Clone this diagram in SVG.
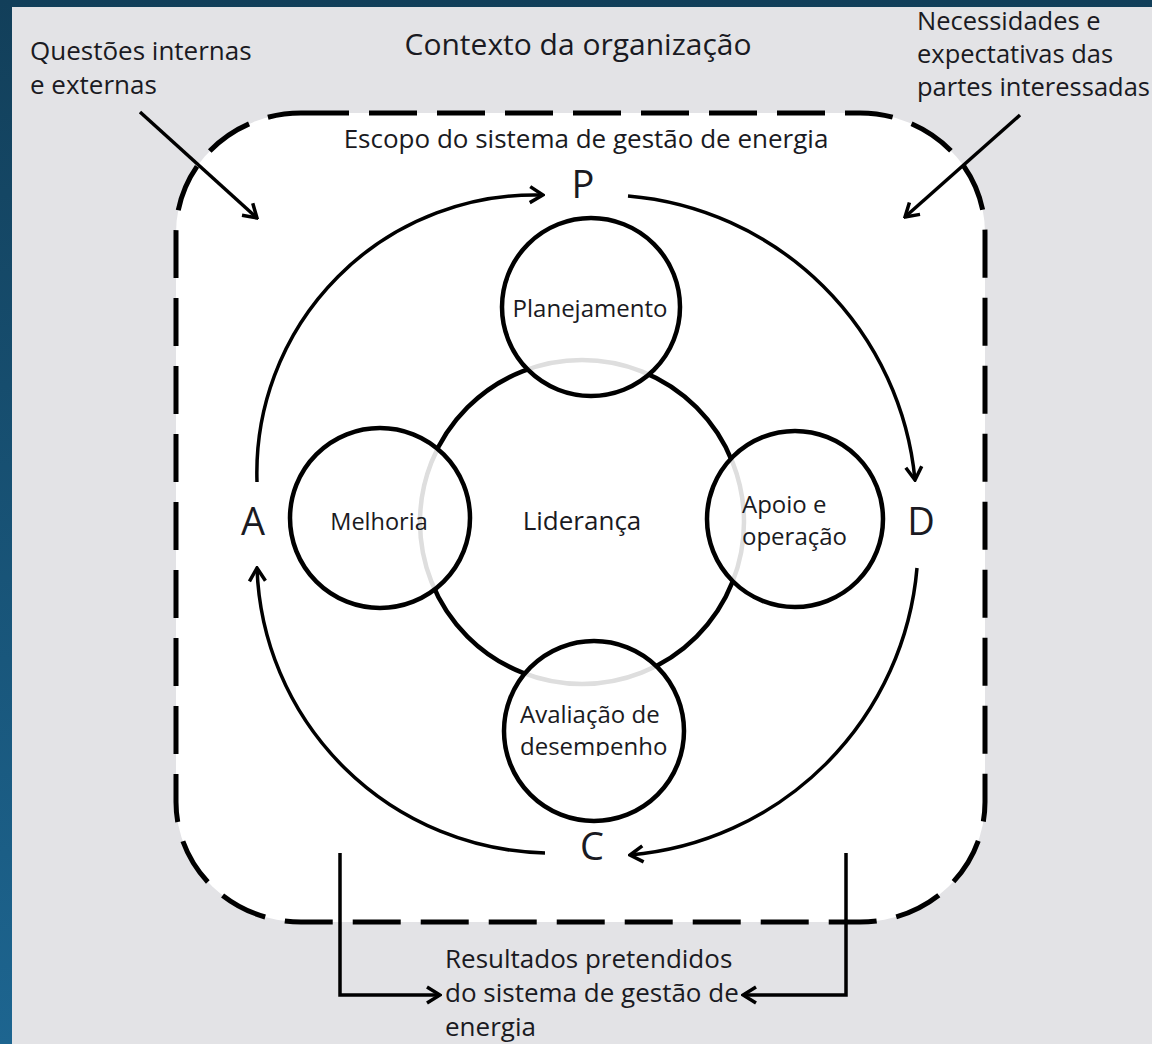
<svg xmlns="http://www.w3.org/2000/svg" width="1152" height="1044" viewBox="0 0 1152 1044">
<defs>
<linearGradient id="bg" x1="0" y1="0" x2="0" y2="1">
<stop offset="0" stop-color="#123f5a"/>
<stop offset="1" stop-color="#1d6590"/>
</linearGradient>
<marker id="arr" viewBox="-16 -10 18 20" markerWidth="18" markerHeight="20" refX="0" refY="0" orient="auto" markerUnits="userSpaceOnUse">
<path d="M-13,-8 L0,0 L-13,8" fill="none" stroke="#000" stroke-width="3.5" stroke-linejoin="miter"/>
</marker>
<clipPath id="clipDes"><rect x="480" y="730" width="220" height="26"/></clipPath>
</defs>
<style>
.t{font-family:"Open Sans","Noto Sans","Liberation Sans",sans-serif;fill:#1a1a22;}
.lbl{font-size:26px;}
.in{font-size:24px;}
.big{font-size:38px;}
.node{fill:#fff;fill-opacity:0.87;stroke:#000;stroke-width:4.5;}
.conn{fill:none;stroke:#000;stroke-width:3.5;}
</style>
<rect x="0" y="0" width="1152" height="1044" fill="url(#bg)"/>
<rect x="12" y="7" width="1140" height="1037" fill="#e3e3e6"/>
<rect id="scope" x="176" y="113" width="809" height="809" rx="125" ry="120" fill="#fff" stroke="#000" stroke-width="5" stroke-dasharray="48 20"/>

<g id="texts-context">
<text class="t" x="578" y="55" text-anchor="middle" font-size="30">Contexto da organização</text>
<text class="t lbl" x="30" y="60">Questões internas</text>
<text class="t lbl" x="30" y="94">e externas</text>
<text class="t" x="917" y="30" font-size="25.5">Necessidades e</text>
<text class="t" x="917" y="63" font-size="25.5">expectativas das</text>
<text class="t" x="917" y="96" font-size="25.5">partes interessadas</text>
<text class="t lbl" x="586" y="148" text-anchor="middle">Escopo do sistema de gestão de energia</text>
<text class="t lbl" x="445" y="968">Resultados pretendidos</text>
<text class="t lbl" x="445" y="1002">do sistema de gestão de</text>
<text class="t lbl" x="445" y="1036">energia</text>
</g>

<g id="connectors">
<path class="conn" d="M257,482 A278,278 0 0 1 543,195" marker-end="url(#arr)"/>
<path class="conn" d="M628,196 A315,315 0 0 1 915,480" marker-end="url(#arr)"/>
<path class="conn" d="M917,568 A315,315 0 0 1 630,855" marker-end="url(#arr)"/>
<path class="conn" d="M545,853 A295,295 0 0 1 257,568" marker-end="url(#arr)"/>
<path class="conn" d="M140,112 L257,218" marker-end="url(#arr)"/>
<path class="conn" d="M1020,115 L905,217" marker-end="url(#arr)"/>
<path class="conn" d="M340,853 L340,995 L440,995" marker-end="url(#arr)"/>
<path class="conn" d="M846,853 L846,995 L743,995" marker-end="url(#arr)"/>
</g>

<g id="pdca-labels">
<text class="t big" x="583" y="198" text-anchor="middle">P</text>
<text class="t big" x="921" y="535" text-anchor="middle">D</text>
<text class="t big" x="592" y="860" text-anchor="middle">C</text>
<text class="t big" x="253" y="535" text-anchor="middle">A</text>
</g>

<g id="lideranca">
<circle cx="582" cy="522" r="162" fill="#fff" stroke="#000" stroke-width="4.5"/>
<text class="t lbl" x="582" y="530" text-anchor="middle">Liderança</text>
</g>
<g id="planejamento">
<circle class="node" cx="591" cy="307" r="89"/>
<text class="t in" x="590" y="317" text-anchor="middle">Planejamento</text>
</g>
<g id="melhoria">
<circle class="node" cx="380" cy="518" r="90"/>
<text class="t" x="379" y="530" text-anchor="middle" font-size="23.5">Melhoria</text>
</g>
<g id="apoio">
<circle class="node" cx="795" cy="519" r="88"/>
<text class="t in" x="742" y="513">Apoio e</text>
<text class="t in" x="742" y="545">operação</text>
</g>
<g id="avaliacao">
<circle class="node" cx="594" cy="731" r="90"/>
<text class="t in" x="520" y="723">Avaliação de</text>
<text class="t in" x="520" y="755" clip-path="url(#clipDes)">desempenho</text>
</g>
</svg>
